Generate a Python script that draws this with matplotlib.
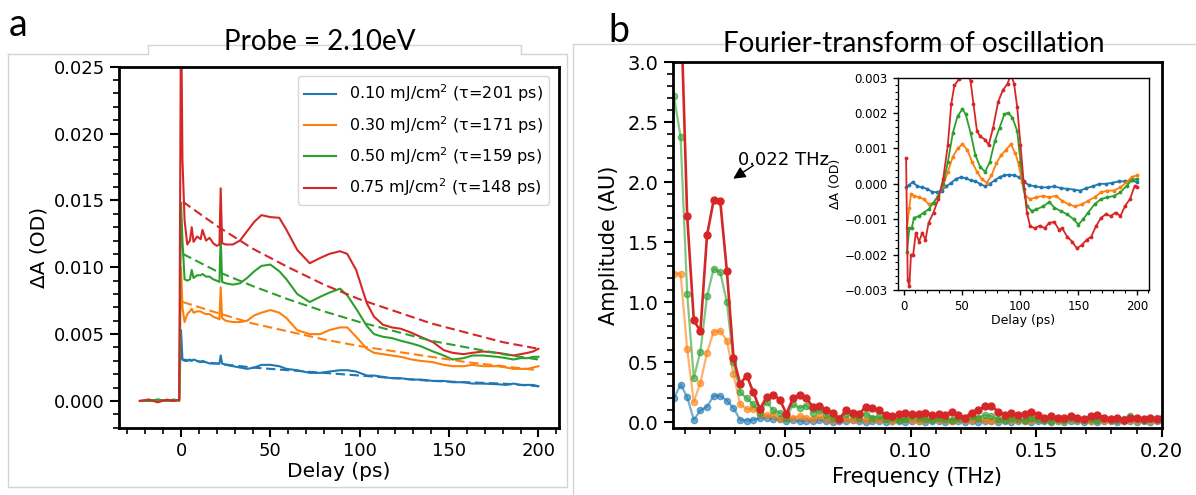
import numpy as np
import matplotlib
matplotlib.use("Agg")
import matplotlib.pyplot as plt
from matplotlib.ticker import MultipleLocator
from matplotlib.lines import Line2D

colors = ["#1f77b4", "#ff7f0e", "#2ca02c", "#d62728"]
labels = ["0.10 mJ/cm$^2$ (\u03c4=201 ps)", "0.30 mJ/cm$^2$ (\u03c4=171 ps)",
          "0.50 mJ/cm$^2$ (\u03c4=159 ps)", "0.75 mJ/cm$^2$ (\u03c4=148 ps)"]

# panel a: transient absorption, delay in ps
delay = [-23, -18, -13, -8, -4, -1, 0, 0.8, 2, 3.5, 5, 6, 7, 9, 11, 12, 14, 16, 18, 20,
         21.5, 22.2, 23, 25, 29, 33, 37, 41, 45, 50, 55, 59, 65, 72, 78, 83, 89, 93, 98, 104,
         108, 113, 118, 123, 129, 134, 141, 147, 152, 158, 163, 169, 177, 182, 186, 190, 194, 197, 200]
da_010 = [0, 0, 0.0001, 0, 0, 0.0001,
          0.0053, 0.0031, 0.0030, 0.0030, 0.0031, 0.0030, 0.0031, 0.0030, 0.0029, 0.0030,
          0.0029, 0.0028, 0.0028, 0.0028, 0.0028, 0.0034, 0.0028, 0.0027, 0.0026, 0.0025,
          0.0024, 0.0025, 0.0027, 0.0027, 0.0026, 0.0024, 0.0023, 0.0021, 0.0021, 0.0022,
          0.0023, 0.0023, 0.0022, 0.0019, 0.0019, 0.0018, 0.0017, 0.0017, 0.0016, 0.0016,
          0.0015, 0.0015, 0.0014, 0.0014, 0.0013, 0.0013, 0.00125, 0.0012, 0.0013, 0.0012,
          0.0012, 0.0012, 0.0011]
da_030 = [0, 0.0001, 0, 0, 0.0001, 0,
          0.0100, 0.0070, 0.0059, 0.0065, 0.0067, 0.0069, 0.0066, 0.0067, 0.0067, 0.0066,
          0.0065, 0.0065, 0.0063, 0.0062, 0.0061, 0.0085, 0.0062, 0.0060, 0.0059, 0.0059,
          0.0060, 0.0064, 0.0066, 0.0068, 0.0066, 0.0062, 0.0053, 0.0050, 0.0050, 0.0053,
          0.0055, 0.0055, 0.0048, 0.0039, 0.0036, 0.0035, 0.0034, 0.0033, 0.0031, 0.0030,
          0.0029, 0.0027, 0.0026, 0.0026, 0.0027, 0.0026, 0.0026, 0.0025, 0.0024, 0.0024,
          0.0024, 0.0025, 0.0026]
da_050 = [0, 0, 0.0001, 0, 0.0001, 0,
          0.0148, 0.0120, 0.0091, 0.0090, 0.0091, 0.0098, 0.0092, 0.0094, 0.0094, 0.0095,
          0.0093, 0.0093, 0.0091, 0.0090, 0.0089, 0.0123, 0.0089, 0.0088, 0.0087, 0.0088,
          0.0092, 0.0097, 0.0101, 0.0102, 0.0097, 0.0091, 0.0080, 0.0074, 0.0078, 0.0081,
          0.0084, 0.0079, 0.0069, 0.0056, 0.0050, 0.0048, 0.0047, 0.0045, 0.0043, 0.0041,
          0.0037, 0.0034, 0.0031, 0.0032, 0.0034, 0.0034, 0.0033, 0.0032, 0.0031, 0.0032,
          0.0032, 0.0033, 0.0033]
da_075 = [0, 0.0001, -0.0001, 0.0001, 0.0, 0.0001,
          0.030, 0.018, 0.0135, 0.0117, 0.0120, 0.0130, 0.0119, 0.0123, 0.0121, 0.0128,
          0.0120, 0.0122, 0.0118, 0.0116, 0.0117, 0.0159, 0.0118, 0.0117, 0.0117, 0.0120,
          0.0127, 0.0134, 0.0139, 0.01375, 0.0137, 0.0128, 0.0113, 0.0103, 0.0107, 0.0110,
          0.0112, 0.0110, 0.0098, 0.0073, 0.0063, 0.0057, 0.0055, 0.0054, 0.0051, 0.0048,
          0.0044, 0.0038, 0.0036, 0.0035, 0.0036, 0.0037, 0.0036, 0.0035, 0.0034, 0.0035,
          0.0036, 0.0037, 0.0039]

# exponential fits (dashed)
fit_delay = [1, 20, 40, 60, 80, 100, 120, 140, 160, 180, 200]
fit_010 = [0.0031, 0.0028, 0.0025, 0.0023, 0.0021, 0.0019, 0.0017, 0.0015, 0.0014, 0.0013, 0.0011]
fit_030 = [0.0074, 0.0066, 0.0058, 0.0052, 0.0046, 0.0041, 0.0037, 0.0033, 0.0029, 0.0026, 0.0023]
fit_050 = [0.0110, 0.0097, 0.0086, 0.0076, 0.0067, 0.0059, 0.0052, 0.0045, 0.0040, 0.0035, 0.0031]
fit_075 = [0.0149, 0.0131, 0.0114, 0.0100, 0.0087, 0.0076, 0.0067, 0.0058, 0.0051, 0.0044, 0.0039]

# panel b: FFT amplitude, frequency bins in THz
f_first, f_step, n_bins = 0.0058, 0.002634, 75
amp_010 = [0.20, 0.315, 0.21, 0.02, 0.10, 0.13, 0.22, 0.22, 0.18, 0.12, 0.02, 0.015, 0.02, 0.035, 0.04,
           0.03, 0.025, 0.01, 0.02, 0.01, 0.015, 0.01, 0.02, 0.01, 0.005, 0.015, 0.01, 0.02, 0.01, 0.005, 0.01,
           0.01, 0.005, 0.015, 0.01, 0.005, 0.01, 0.015, 0.005, 0.01, 0.01, 0.005, 0.015, 0.01, 0.005, 0.01,
           0.005, 0.01, 0.015, 0.005, 0.01, 0.005, 0.01, 0.01, 0.005, 0.015, 0.01, 0.005, 0.01, 0.005, 0.01,
           0.015, 0.005, 0.01, 0.005, 0.01, 0.01, 0.005, 0.01, 0.015, 0.005, 0.01, 0.005, 0.01, 0.01]
amp_030 = [1.24, 1.24, 0.61, 0.17, 0.33, 0.58, 0.755, 0.76, 0.68, 0.40, 0.15, 0.11, 0.11, 0.07, 0.06,
           0.06, 0.03, 0.04, 0.04, 0.05, 0.04, 0.03, 0.05, 0.03, 0.02, 0.04, 0.03, 0.02, 0.03, 0.02, 0.03,
           0.02, 0.03, 0.01, 0.02, 0.03, 0.02, 0.01, 0.02, 0.03, 0.02, 0.02, 0.01, 0.03, 0.02, 0.02,
           0.03, 0.02, 0.01, 0.02, 0.03, 0.02, 0.02, 0.01, 0.02, 0.03, 0.02, 0.01, 0.02, 0.01, 0.03,
           0.02, 0.02, 0.01, 0.02, 0.01, 0.02, 0.02, 0.01, 0.02, 0.01, 0.02, 0.01, 0.02, 0.01]
amp_050 = [2.72, 2.38, 1.07, 0.37, 0.59, 1.05, 1.28, 1.25, 1.00, 0.50, 0.25, 0.20, 0.15, 0.08, 0.17,
           0.10, 0.08, 0.04, 0.15, 0.12, 0.14, 0.08, 0.10, 0.06, 0.04, 0.03, 0.07, 0.06, 0.04, 0.07, 0.04,
           0.05, 0.03, 0.04, 0.02, 0.03, 0.05, 0.04, 0.03, 0.02, 0.04, 0.03, 0.02, 0.04, 0.03, 0.05,
           0.04, 0.06, 0.05, 0.03, 0.02, 0.04, 0.03, 0.02, 0.04, 0.03, 0.02, 0.01, 0.03, 0.02, 0.04,
           0.03, 0.02, 0.03, 0.02, 0.04, 0.03, 0.02, 0.03, 0.05, 0.03, 0.02, 0.03, 0.04, 0.03]
amp_075 = [5.0, 3.55, 1.72, 0.85, 0.76, 1.56, 1.85, 1.84, 1.26, 0.54, 0.32, 0.39, 0.25, 0.11, 0.21,
           0.23, 0.19, 0.07, 0.20, 0.23, 0.20, 0.13, 0.14, 0.10, 0.08, 0.03, 0.10, 0.08, 0.07, 0.13, 0.12,
           0.10, 0.06, 0.05, 0.07, 0.08, 0.07, 0.07, 0.08, 0.06, 0.07, 0.06, 0.09, 0.06, 0.04, 0.08,
           0.10, 0.135, 0.135, 0.09, 0.06, 0.08, 0.06, 0.07, 0.09, 0.06, 0.04, 0.05, 0.04, 0.035, 0.05,
           0.04, 0.025, 0.05, 0.06, 0.04, 0.03, 0.04, 0.02, 0.04, 0.035, 0.03, 0.04, 0.03, 0.035]

# inset: oscillation (residual), values in 1e-3 OD
osc_t_010 = [2.2, 5, 7.7, 11.9, 16, 20.2, 24.3, 28.5, 32.6, 36.7, 40.9, 45, 49.2, 53.3, 57.5, 61.6,
             65.7, 70, 74, 78.2, 82.3, 86.5, 90.6, 94.8, 98.9, 103, 107.2, 112.7, 118.2, 123.8,
             129.3, 134.8, 140.3, 145.9, 151.4, 156.9, 162.4, 168, 173.5, 179, 184.5, 190, 195.6, 200]
osc_010 = [-0.1, -0.03, 0.05, -0.07, -0.1, -0.14, -0.22, -0.24, -0.19, -0.07, 0.03, 0.14, 0.19, 0.16,
           0.1, 0.07, 0.0, -0.07, 0.0, 0.1, 0.19, 0.24, 0.26, 0.24, 0.19, 0.07, -0.03, -0.07, -0.1,
           -0.1, -0.07, -0.12, -0.14, -0.16, -0.19, -0.12, -0.07, 0.0, 0.0, 0.03, 0.07, 0.07, 0.1, 0.05]
osc_t_030 = [3, 5, 6.4, 9, 13.3, 17.4, 21.5, 25.7, 29.8, 34, 38, 42.3, 46.4, 50.5, 54.7, 58.8, 63,
             67, 71.3, 75.4, 79.6, 83.7, 87.8, 92, 96, 98.9, 101.6, 104.4, 108.6, 114, 119.6, 125,
             130.7, 136, 141.7, 147.2, 152.8, 158.3, 163.8, 169.3, 174.9, 180.4, 186, 191.4, 195.6, 200]
osc_030 = [-1.25, -0.67, -0.29, -0.34, -0.38, -0.43, -0.58, -0.53, -0.34, -0.05, 0.34, 0.77, 1.0,
           1.12, 0.96, 0.62, 0.34, 0.14, 0.03, 0.24, 0.58, 0.81, 0.96, 1.12, 0.86, 0.53, 0.05, -0.34,
           -0.43, -0.38, -0.34, -0.38, -0.34, -0.48, -0.58, -0.64, -0.58, -0.48, -0.38, -0.24, -0.19,
           -0.19, -0.1, 0.05, 0.19, 0.24]
osc_t_050 = [3, 5, 7, 9, 13.3, 17.4, 21.5, 25.7, 29.8, 34, 38, 42.3, 46.4, 50.5, 53.3, 57.5, 61.6,
             65.7, 70, 74, 78.2, 82.3, 86.5, 89.8, 93.4, 97.5, 100.3, 103, 105.8, 110, 114, 119.6,
             125, 129.3, 134.8, 140.3, 145.9, 150, 154, 158.3, 163.8, 169.3, 174.9, 180.4, 186,
             191.4, 195.6, 200]
osc_050 = [-1.92, -1.25, -1.25, -0.96, -0.91, -0.81, -0.72, -0.53, -0.34, 0.0, 0.62, 1.44, 1.92,
           2.11, 1.97, 1.44, 0.81, 0.48, 0.34, 0.62, 1.2, 1.58, 1.97, 2.01, 1.87, 1.49, 0.62, -0.14,
           -0.62, -0.77, -0.72, -0.64, -0.51, -0.67, -0.77, -0.86, -1.0, -1.15, -1.0, -0.81, -0.58,
           -0.43, -0.38, -0.34, -0.24, -0.05, 0.1, 0.14]
osc_t_075 = [2.2, 3.6, 5, 6.4, 8.3, 10.5, 13.3, 16, 18.8, 21.5, 25.7, 29.8, 34, 38, 40.9, 43.6, 47.8,
             51, 54, 57.5, 60, 63, 65.7, 70, 73, 76.8, 81, 85, 89.2, 92, 94.8, 97.5, 100.3, 103,
             105.8, 108.6, 112.7, 116.9, 121, 125, 129.3, 133.4, 136, 140.3, 144.5, 148.6, 152.8,
             157, 161, 165, 169.3, 173.5, 177.6, 181.8, 186, 190, 194.2, 198.3, 200]
osc_075 = [0.72, -2.73, -2.88, -2.0, -2.0, -1.39, -1.63, -1.39, -1.58, -1.1, -0.81, -0.43, 0.14, 1.1,
           2.25, 2.78, 2.97, 3.1, 3.2, 2.9, 2.25, 1.49, 1.34, 1.25, 1.1, 1.58, 2.3, 2.64, 2.83, 3.1,
           2.83, 2.16, 1.1, 0.05, -0.81, -1.2, -1.25, -1.18, -1.25, -1.1, -1.08, -1.3, -1.25, -1.49,
           -1.63, -1.82, -1.73, -1.58, -1.49, -1.2, -0.96, -0.86, -0.91, -0.81, -0.91, -0.62, -0.43,
           -0.05, -0.1]

W, H = 1196, 495
fig = plt.figure(figsize=(W / 100, H / 100), dpi=100)


def px_box(x0, y0, x1, y1):
    # axes rectangle from pixel corners (top-left origin)
    return [x0 / W, 1 - y1 / H, (x1 - x0) / W, (y1 - y0) / H]


def style_ticks(ax, size, major=(6.5, 1.5), minor=(4, 1.2)):
    ax.tick_params(which="major", length=major[0], width=major[1], labelsize=size)
    ax.tick_params(which="minor", length=minor[0], width=minor[1])


# ---------- panel a ----------
ax1 = fig.add_axes(px_box(119, 66.7, 559, 427.7))
series = [da_010, da_030, da_050, da_075]
fits = [fit_010, fit_030, fit_050, fit_075]
for vals, c, lab in zip(series, colors, labels):
    ax1.plot(delay, vals, color=c, lw=1.5, label=lab)
for fit, c in zip(fits, colors):
    ax1.plot(fit_delay, fit, color=c, lw=1.5, ls=(0, (4.5, 2.2)))
ax1.set_xlim(-34.7, 211.5)
ax1.set_ylim(-0.002, 0.025)
ax1.xaxis.set_major_locator(MultipleLocator(50))
ax1.xaxis.set_minor_locator(MultipleLocator(10))
ax1.yaxis.set_major_locator(MultipleLocator(0.005))
ax1.yaxis.set_minor_locator(MultipleLocator(0.001))
style_ticks(ax1, 13)
for s in ax1.spines.values():
    s.set_linewidth(2)
ax1.set_xlabel("Delay (ps)", fontsize=14.5, labelpad=2)
ax1.set_ylabel("\u0394A (OD)", fontsize=14.5, labelpad=4)
ax1.legend(loc="upper right", fontsize=11.5, borderaxespad=0.6, labelspacing=0.6)

# ---------- panel b ----------
ax2 = fig.add_axes(px_box(672.7, 62.3, 1161.7, 428.3))
freq = f_first + f_step * np.arange(n_bins)
amps = [amp_010, amp_030, amp_050, amp_075]
for a, c in zip(amps, colors):
    if c == colors[3]:
        ax2.plot(freq, a, color=c, lw=1.9, marker="o", ms=5)
    else:
        ax2.plot(freq, a, color=c, lw=1.6, marker="o", ms=4.5, alpha=0.6)
ax2.set_xlim(0.0053, 0.2)
ax2.set_ylim(-0.05, 3.0)
ax2.xaxis.set_major_locator(MultipleLocator(0.05))
ax2.xaxis.set_minor_locator(MultipleLocator(0.01))
ax2.yaxis.set_major_locator(MultipleLocator(0.5))
ax2.yaxis.set_minor_locator(MultipleLocator(0.1))
style_ticks(ax2, 14)
for s in ax2.spines.values():
    s.set_linewidth(2)
ax2.set_xlabel("Frequency (THz)", fontsize=15, labelpad=4)
ax2.set_ylabel("Amplitude (AU)", fontsize=15, labelpad=6)
ax2.text(0.0314, 2.14, "0.022 THz", fontsize=13, ha="left", va="baseline")
ax2.annotate("", xy=(0.0294, 2.03), xytext=(0.0374, 2.14),
             arrowprops=dict(arrowstyle="-|>", color="k", lw=1, mutation_scale=18,
                             shrinkA=0, shrinkB=0))

# ---------- inset ----------
axi = fig.add_axes(px_box(897.7, 77.7, 1149, 290))
osc = [(osc_t_010, osc_010), (osc_t_030, osc_030), (osc_t_050, osc_050), (osc_t_075, osc_075)]
for (t, v), c in zip(osc, colors):
    axi.plot(t, np.array(v) * 1e-3, color=c, lw=1.3, marker=".", ms=3.5)
axi.set_xlim(-5, 210.5)
axi.set_ylim(-0.003, 0.003)
axi.xaxis.set_major_locator(MultipleLocator(50))
axi.xaxis.set_minor_locator(MultipleLocator(10))
axi.yaxis.set_major_locator(MultipleLocator(0.001))
axi.yaxis.set_minor_locator(MultipleLocator(0.0002))
style_ticks(axi, 8.5, major=(3.5, 1.0), minor=(2, 0.8))
for s in axi.spines.values():
    s.set_linewidth(1.0)
axi.set_xlabel("Delay (ps)", fontsize=9, labelpad=1)
axi.set_ylabel("\u0394A (OD)", fontsize=9, labelpad=2)

# ---------- titles, panel letters, faint frames ----------
fig.text(320 / W, 1 - 50 / H, "Probe = 2.10eV", family="Lato", fontsize=20, ha="center", va="baseline")
fig.text(913.5 / W, 1 - 52 / H, "Fourier-transform of oscillation", family="Lato", fontsize=20,
         ha="center", va="baseline")
fig.text(9 / W, 1 - 36 / H, "a", family="Lato", fontsize=27, ha="left", va="baseline")
fig.text(608 / W, 1 - 41.7 / H, "b", family="Lato", fontsize=27, ha="left", va="baseline")

frame_a_x = [7.7, 147.5, 147.5, 521, 521, 567, 567, 7.7, 7.7]
frame_a_y = [54, 54, 45, 45, 54, 54, 487, 487, 54]
frame_b_x = [573, 573, 1196]
frame_b_y = [495, 44, 44]
for fx, fy in [(frame_a_x, frame_a_y), (frame_b_x, frame_b_y)]:
    fig.add_artist(Line2D([x / W for x in fx], [1 - y / H for y in fy],
                          transform=fig.transFigure, color="#d4d4d4", lw=1, zorder=0))

fig.savefig("out.png", dpi=100)
